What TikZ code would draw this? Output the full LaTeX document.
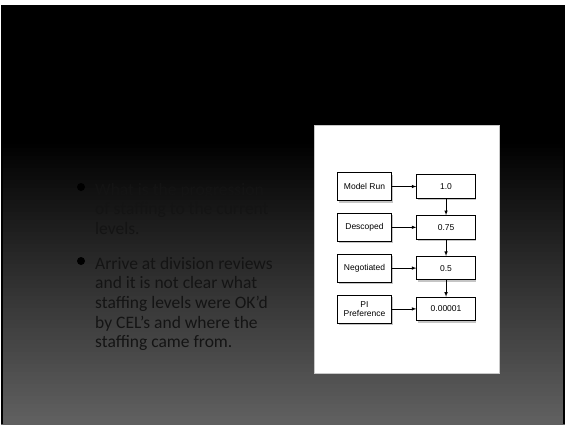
\documentclass[tikz,border=0pt]{standalone}
\usepackage{fontspec}
\setmainfont{Carlito}
\newfontfamily\boxfont{Liberation Sans}
\usetikzlibrary{arrows,positioning,shadows}

\definecolor{slidegray}{RGB}{96,96,96}
\definecolor{bodytext}{RGB}{20,20,20}
\definecolor{panelrule}{RGB}{200,200,200}

\tikzset{
  leftbox/.style={draw, thick, fill=white, minimum width=54pt, minimum height=28pt,
    align=center, font=\boxfont\fontsize{8.5}{9.5}\selectfont,
    drop shadow={opacity=0.45, shadow xshift=1pt, shadow yshift=-2pt}},
  valbox/.style={leftbox, minimum width=58.5pt, minimum height=23.5pt},
  flow/.style={-latex, semithick},
  dot/.style={circle, fill=black, inner sep=0pt, minimum size=8pt},
  % anchored at the baseline of the last line
  bullettext/.style={text=bodytext, align=left, inner sep=0pt, anchor=base west,
    font=\fontsize{17.5}{19.7}\selectfont}
}

\begin{document}
\begin{tikzpicture}[x=1pt, y=-1pt]
\useasboundingbox (0,0) rectangle (565,424);
% slide background
\fill[white] (0,0) rectangle (565,424);
\fill[black] (1,5) rectangle (565,140);
\foreach \i in {0,...,70}
  \pgfmathsetmacro\shadepct{100*\i/70}
  \fill[slidegray!\shadepct!black] (1,140+4*\i) rectangle (565,144.5+4*\i);
\draw[black, line width=2pt] (2,5) -- (2,424);
\draw[black, line width=2pt] (564,5) -- (564,424);

% bullets
\node[dot] (b1) at (81,187) {};
\node[bullettext] (t1) at (95,234.4) {What is the progression\\of staffing to the current\\levels.};
\node[dot] (b2) at (81,261) {};
\node[bullettext] (t2) at (95,347.8) {Arrive at division reviews\\and it is not clear what\\staffing levels were OK'd\\by CEL's and where the\\staffing came from.};

% picture panel
\draw[panelrule, fill=white] (314,125) rectangle (499,373);

\node[leftbox] (run) at (364.5,186.5) {Model Run};
\node[leftbox, below=12pt of run] (descoped) {Descoped};
\node[leftbox, below=12pt of descoped] (negotiated) {Negotiated};
\node[leftbox, below=12pt of negotiated] (pipref) {PI\\Preference};

\node[valbox, right=24.5pt of run] (v1) {1.0};
\node[valbox, right=24.5pt of descoped] (v2) {0.75};
\node[valbox, right=24.5pt of negotiated] (v3) {0.5};
\node[valbox, right=24.5pt of pipref] (v4) {0.00001};

\draw[flow] (run) -- (v1);
\draw[flow] (descoped) -- (v2);
\draw[flow] (negotiated) -- (v3);
\draw[flow] (pipref) -- (v4);
\draw[flow] (v1) -- (v2);
\draw[flow] (v2) -- (v3);
\draw[flow] (v3) -- (v4);
\end{tikzpicture}
\end{document}
